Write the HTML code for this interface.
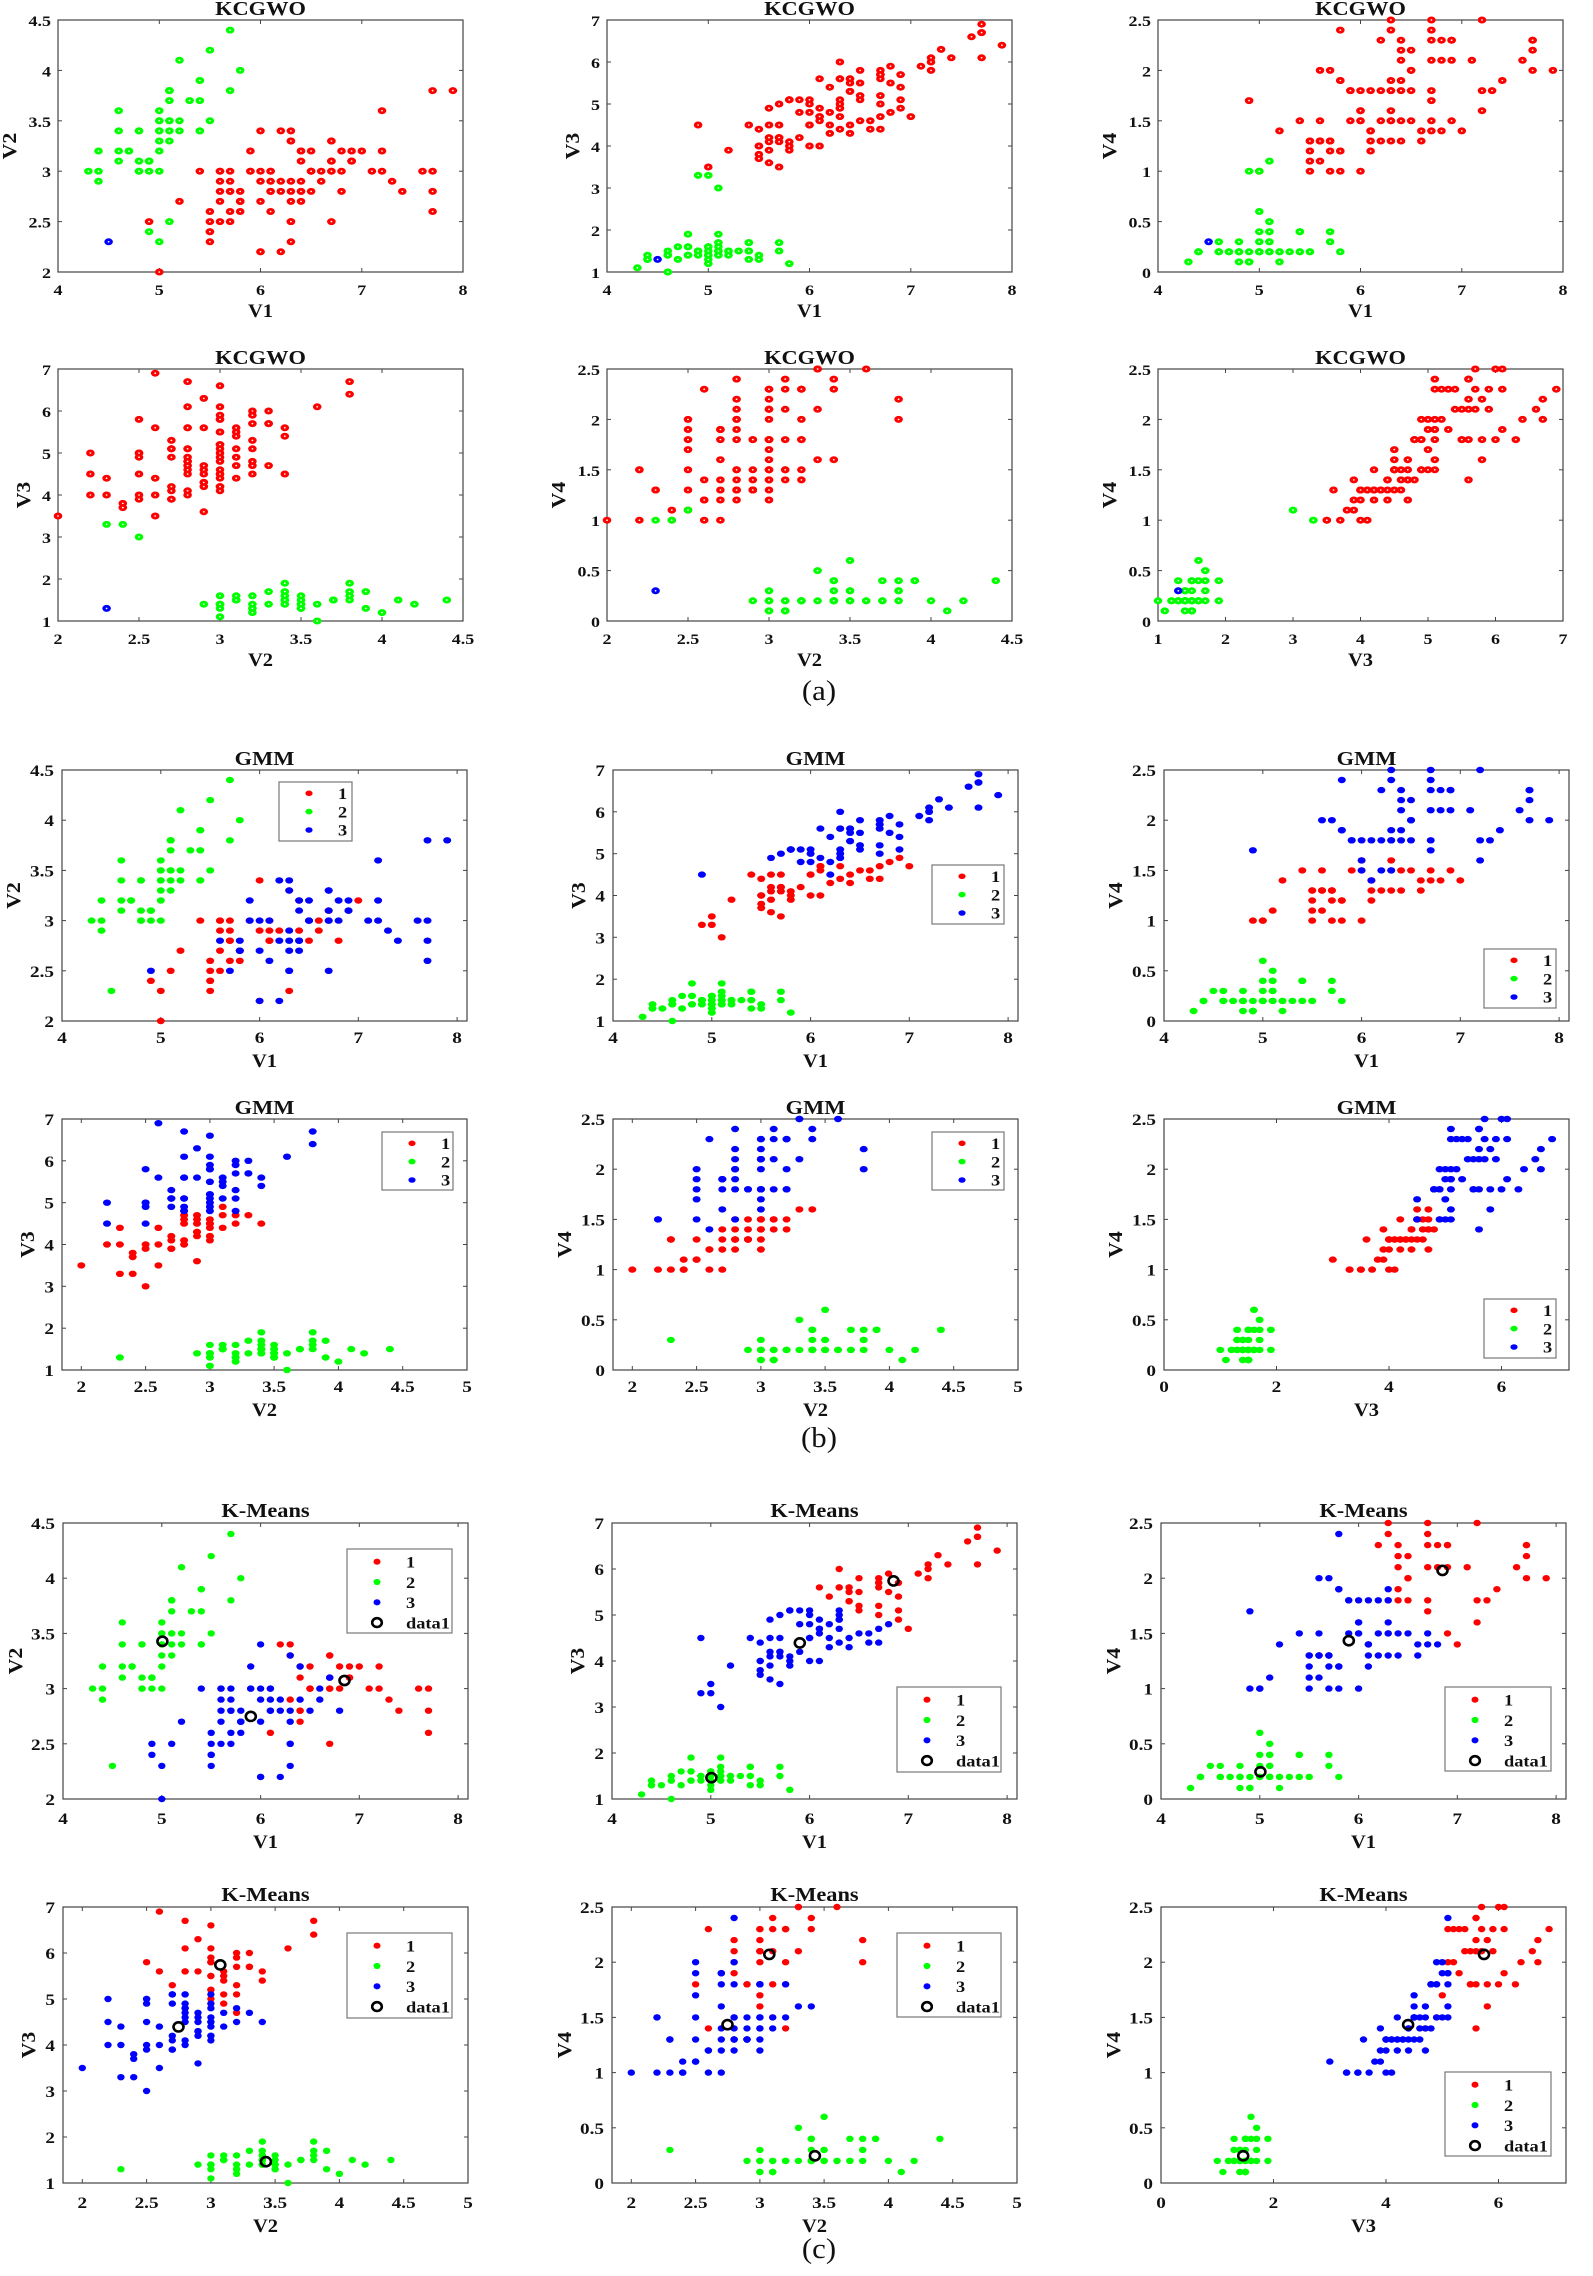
<!DOCTYPE html>
<html>
<head>
<meta charset="utf-8">
<style>
html,body{margin:0;padding:0;background:#fff;}
svg{display:block;}
text{font-family:"Liberation Serif",serif;font-weight:bold;fill:#111;}
.a{font-size:15px;}
.b{font-size:16px;}
.xm{text-anchor:middle;transform-box:fill-box;transform-origin:center;transform:scaleX(1.2);}
.ye{text-anchor:end;transform-box:fill-box;transform-origin:right center;transform:scaleX(1.2);}
.lb{font-size:19px;text-anchor:middle;transform-box:fill-box;transform-origin:center;transform:scaleX(1.08);}
.tt{font-size:20px;text-anchor:middle;transform-box:fill-box;transform-origin:center;transform:scaleX(1.12);}
.yl{font-size:19px;text-anchor:middle;}
.lg{font-size:16px;transform-box:fill-box;transform-origin:left center;transform:scaleX(1.15);}
.cap{font-size:28px;font-weight:normal;text-anchor:middle;transform-box:fill-box;transform-origin:center;transform:scaleX(1.1);}
</style>
</head>
<body>
<svg id="s" width="1593" height="2276" viewBox="0 0 1593 2276">
<rect x="0" y="0" width="1593" height="2276" fill="#fff"/>
<g id="plot"></g>

<!-- ================= KCGWO ================= -->
<g transform="translate(58,20)" class="a">
<text class="tt" x="202.5" y="-5">KCGWO</text>
<text class="xm" x="0" y="275">4</text><text class="xm" x="101.3" y="275">5</text><text class="xm" x="202.5" y="275">6</text><text class="xm" x="303.8" y="275">7</text><text class="xm" x="405" y="275">8</text>
<text class="ye" x="-7" y="258">2</text><text class="ye" x="-7" y="207.6">2.5</text><text class="ye" x="-7" y="157.2">3</text><text class="ye" x="-7" y="106.8">3.5</text><text class="ye" x="-7" y="56.4">4</text><text class="ye" x="-7" y="6">4.5</text>
<text class="lb" x="202.5" y="297">V1</text>
<text class="yl" transform="translate(-42,126) rotate(-90) scale(1.15,1.05)">V2</text>
</g>
<g transform="translate(607,20)" class="a">
<text class="tt" x="202.5" y="-5">KCGWO</text>
<text class="xm" x="0" y="275">4</text><text class="xm" x="101.3" y="275">5</text><text class="xm" x="202.5" y="275">6</text><text class="xm" x="303.8" y="275">7</text><text class="xm" x="405" y="275">8</text>
<text class="ye" x="-7" y="258">1</text><text class="ye" x="-7" y="216">2</text><text class="ye" x="-7" y="174">3</text><text class="ye" x="-7" y="132">4</text><text class="ye" x="-7" y="90">5</text><text class="ye" x="-7" y="48">6</text><text class="ye" x="-7" y="6">7</text>
<text class="lb" x="202.5" y="297">V1</text>
<text class="yl" transform="translate(-28,126) rotate(-90) scale(1.15,1.05)">V3</text>
</g>
<g transform="translate(1158,20)" class="a">
<text class="tt" x="202.5" y="-5">KCGWO</text>
<text class="xm" x="0" y="275">4</text><text class="xm" x="101.3" y="275">5</text><text class="xm" x="202.5" y="275">6</text><text class="xm" x="303.8" y="275">7</text><text class="xm" x="405" y="275">8</text>
<text class="ye" x="-7" y="258">0</text><text class="ye" x="-7" y="207.6">0.5</text><text class="ye" x="-7" y="157.2">1</text><text class="ye" x="-7" y="106.8">1.5</text><text class="ye" x="-7" y="56.4">2</text><text class="ye" x="-7" y="6">2.5</text>
<text class="lb" x="202.5" y="297">V1</text>
<text class="yl" transform="translate(-42,126) rotate(-90) scale(1.15,1.05)">V4</text>
</g>
<g transform="translate(58,369)" class="a">
<text class="tt" x="202.5" y="-5">KCGWO</text>
<text class="xm" x="0" y="275">2</text><text class="xm" x="81" y="275">2.5</text><text class="xm" x="162" y="275">3</text><text class="xm" x="243" y="275">3.5</text><text class="xm" x="324" y="275">4</text><text class="xm" x="405" y="275">4.5</text>
<text class="ye" x="-7" y="258">1</text><text class="ye" x="-7" y="216">2</text><text class="ye" x="-7" y="174">3</text><text class="ye" x="-7" y="132">4</text><text class="ye" x="-7" y="90">5</text><text class="ye" x="-7" y="48">6</text><text class="ye" x="-7" y="6">7</text>
<text class="lb" x="202.5" y="297">V2</text>
<text class="yl" transform="translate(-28,126) rotate(-90) scale(1.15,1.05)">V3</text>
</g>
<g transform="translate(607,369)" class="a">
<text class="tt" x="202.5" y="-5">KCGWO</text>
<text class="xm" x="0" y="275">2</text><text class="xm" x="81" y="275">2.5</text><text class="xm" x="162" y="275">3</text><text class="xm" x="243" y="275">3.5</text><text class="xm" x="324" y="275">4</text><text class="xm" x="405" y="275">4.5</text>
<text class="ye" x="-7" y="258">0</text><text class="ye" x="-7" y="207.6">0.5</text><text class="ye" x="-7" y="157.2">1</text><text class="ye" x="-7" y="106.8">1.5</text><text class="ye" x="-7" y="56.4">2</text><text class="ye" x="-7" y="6">2.5</text>
<text class="lb" x="202.5" y="297">V2</text>
<text class="yl" transform="translate(-42,126) rotate(-90) scale(1.15,1.05)">V4</text>
</g>
<g transform="translate(1158,369)" class="a">
<text class="tt" x="202.5" y="-5">KCGWO</text>
<text class="xm" x="0" y="275">1</text><text class="xm" x="67.5" y="275">2</text><text class="xm" x="135" y="275">3</text><text class="xm" x="202.5" y="275">4</text><text class="xm" x="270" y="275">5</text><text class="xm" x="337.5" y="275">6</text><text class="xm" x="405" y="275">7</text>
<text class="ye" x="-7" y="258">0</text><text class="ye" x="-7" y="207.6">0.5</text><text class="ye" x="-7" y="157.2">1</text><text class="ye" x="-7" y="106.8">1.5</text><text class="ye" x="-7" y="56.4">2</text><text class="ye" x="-7" y="6">2.5</text>
<text class="lb" x="202.5" y="297">V3</text>
<text class="yl" transform="translate(-42,126) rotate(-90) scale(1.15,1.05)">V4</text>
</g>

<!-- ================= GMM ================= -->
<g transform="translate(62,770)" class="b">
<text class="tt" x="202.5" y="-5">GMM</text>
<text class="xm" x="0" y="273">4</text><text class="xm" x="98.8" y="273">5</text><text class="xm" x="197.6" y="273">6</text><text class="xm" x="296.3" y="273">7</text><text class="xm" x="395.1" y="273">8</text>
<text class="ye" x="-8" y="257">2</text><text class="ye" x="-8" y="206.8">2.5</text><text class="ye" x="-8" y="156.6">3</text><text class="ye" x="-8" y="106.4">3.5</text><text class="ye" x="-8" y="56.2">4</text><text class="ye" x="-8" y="6">4.5</text>
<text class="lb" x="202.5" y="297">V1</text>
<text class="yl" transform="translate(-42,125.5) rotate(-90) scale(1.15,1.05)">V2</text>
</g>
<g transform="translate(613,770)" class="b">
<text class="tt" x="202.5" y="-5">GMM</text>
<text class="xm" x="0" y="273">4</text><text class="xm" x="98.8" y="273">5</text><text class="xm" x="197.6" y="273">6</text><text class="xm" x="296.3" y="273">7</text><text class="xm" x="395.1" y="273">8</text>
<text class="ye" x="-8" y="257">1</text><text class="ye" x="-8" y="215.2">2</text><text class="ye" x="-8" y="173.3">3</text><text class="ye" x="-8" y="131.5">4</text><text class="ye" x="-8" y="89.7">5</text><text class="ye" x="-8" y="47.8">6</text><text class="ye" x="-8" y="6">7</text>
<text class="lb" x="202.5" y="297">V1</text>
<text class="yl" transform="translate(-28,125.5) rotate(-90) scale(1.15,1.05)">V3</text>
</g>
<g transform="translate(1164,770)" class="b">
<text class="tt" x="202.5" y="-5">GMM</text>
<text class="xm" x="0" y="273">4</text><text class="xm" x="98.8" y="273">5</text><text class="xm" x="197.6" y="273">6</text><text class="xm" x="296.3" y="273">7</text><text class="xm" x="395.1" y="273">8</text>
<text class="ye" x="-8" y="257">0</text><text class="ye" x="-8" y="206.8">0.5</text><text class="ye" x="-8" y="156.6">1</text><text class="ye" x="-8" y="106.4">1.5</text><text class="ye" x="-8" y="56.2">2</text><text class="ye" x="-8" y="6">2.5</text>
<text class="lb" x="202.5" y="297">V1</text>
<text class="yl" transform="translate(-42,125.5) rotate(-90) scale(1.15,1.05)">V4</text>
</g>
<g transform="translate(62,1119)" class="b">
<text class="tt" x="202.5" y="-5">GMM</text>
<text class="xm" x="19.3" y="273">2</text><text class="xm" x="83.6" y="273">2.5</text><text class="xm" x="147.9" y="273">3</text><text class="xm" x="212.1" y="273">3.5</text><text class="xm" x="276.4" y="273">4</text><text class="xm" x="340.7" y="273">4.5</text><text class="xm" x="405" y="273">5</text>
<text class="ye" x="-8" y="257">1</text><text class="ye" x="-8" y="215.2">2</text><text class="ye" x="-8" y="173.3">3</text><text class="ye" x="-8" y="131.5">4</text><text class="ye" x="-8" y="89.7">5</text><text class="ye" x="-8" y="47.8">6</text><text class="ye" x="-8" y="6">7</text>
<text class="lb" x="202.5" y="297">V2</text>
<text class="yl" transform="translate(-28,125.5) rotate(-90) scale(1.15,1.05)">V3</text>
</g>
<g transform="translate(613,1119)" class="b">
<text class="tt" x="202.5" y="-5">GMM</text>
<text class="xm" x="19.3" y="273">2</text><text class="xm" x="83.6" y="273">2.5</text><text class="xm" x="147.9" y="273">3</text><text class="xm" x="212.1" y="273">3.5</text><text class="xm" x="276.4" y="273">4</text><text class="xm" x="340.7" y="273">4.5</text><text class="xm" x="405" y="273">5</text>
<text class="ye" x="-8" y="257">0</text><text class="ye" x="-8" y="206.8">0.5</text><text class="ye" x="-8" y="156.6">1</text><text class="ye" x="-8" y="106.4">1.5</text><text class="ye" x="-8" y="56.2">2</text><text class="ye" x="-8" y="6">2.5</text>
<text class="lb" x="202.5" y="297">V2</text>
<text class="yl" transform="translate(-42,125.5) rotate(-90) scale(1.15,1.05)">V4</text>
</g>
<g transform="translate(1164,1119)" class="b">
<text class="tt" x="202.5" y="-5">GMM</text>
<text class="xm" x="0" y="273">0</text><text class="xm" x="112.5" y="273">2</text><text class="xm" x="225" y="273">4</text><text class="xm" x="337.5" y="273">6</text>
<text class="ye" x="-8" y="257">0</text><text class="ye" x="-8" y="206.8">0.5</text><text class="ye" x="-8" y="156.6">1</text><text class="ye" x="-8" y="106.4">1.5</text><text class="ye" x="-8" y="56.2">2</text><text class="ye" x="-8" y="6">2.5</text>
<text class="lb" x="202.5" y="297">V3</text>
<text class="yl" transform="translate(-42,125.5) rotate(-90) scale(1.15,1.05)">V4</text>
</g>

<!-- ================= K-Means ================= -->
<g transform="translate(63,1523)" class="b">
<text class="tt" x="202.5" y="-6">K-Means</text>
<text class="xm" x="0" y="301">4</text><text class="xm" x="98.8" y="301">5</text><text class="xm" x="197.6" y="301">6</text><text class="xm" x="296.3" y="301">7</text><text class="xm" x="395.1" y="301">8</text>
<text class="ye" x="-8" y="282">2</text><text class="ye" x="-8" y="226.8">2.5</text><text class="ye" x="-8" y="171.6">3</text><text class="ye" x="-8" y="116.4">3.5</text><text class="ye" x="-8" y="61.2">4</text><text class="ye" x="-8" y="6">4.5</text>
<text class="lb" x="202.5" y="325">V1</text>
<text class="yl" transform="translate(-41,138) rotate(-90) scale(1.15,1.05)">V2</text>
</g>
<g transform="translate(612,1523)" class="b">
<text class="tt" x="202.5" y="-6">K-Means</text>
<text class="xm" x="0" y="301">4</text><text class="xm" x="98.8" y="301">5</text><text class="xm" x="197.6" y="301">6</text><text class="xm" x="296.3" y="301">7</text><text class="xm" x="395.1" y="301">8</text>
<text class="ye" x="-8" y="282">1</text><text class="ye" x="-8" y="236">2</text><text class="ye" x="-8" y="190">3</text><text class="ye" x="-8" y="144">4</text><text class="ye" x="-8" y="98">5</text><text class="ye" x="-8" y="52">6</text><text class="ye" x="-8" y="6">7</text>
<text class="lb" x="202.5" y="325">V1</text>
<text class="yl" transform="translate(-28,138) rotate(-90) scale(1.15,1.05)">V3</text>
</g>
<g transform="translate(1161,1523)" class="b">
<text class="tt" x="202.5" y="-6">K-Means</text>
<text class="xm" x="0" y="301">4</text><text class="xm" x="98.8" y="301">5</text><text class="xm" x="197.6" y="301">6</text><text class="xm" x="296.3" y="301">7</text><text class="xm" x="395.1" y="301">8</text>
<text class="ye" x="-8" y="282">0</text><text class="ye" x="-8" y="226.8">0.5</text><text class="ye" x="-8" y="171.6">1</text><text class="ye" x="-8" y="116.4">1.5</text><text class="ye" x="-8" y="61.2">2</text><text class="ye" x="-8" y="6">2.5</text>
<text class="lb" x="202.5" y="325">V1</text>
<text class="yl" transform="translate(-41,138) rotate(-90) scale(1.15,1.05)">V4</text>
</g>
<g transform="translate(63,1907)" class="b">
<text class="tt" x="202.5" y="-6">K-Means</text>
<text class="xm" x="19.3" y="301">2</text><text class="xm" x="83.6" y="301">2.5</text><text class="xm" x="147.9" y="301">3</text><text class="xm" x="212.1" y="301">3.5</text><text class="xm" x="276.4" y="301">4</text><text class="xm" x="340.7" y="301">4.5</text><text class="xm" x="405" y="301">5</text>
<text class="ye" x="-8" y="282">1</text><text class="ye" x="-8" y="236">2</text><text class="ye" x="-8" y="190">3</text><text class="ye" x="-8" y="144">4</text><text class="ye" x="-8" y="98">5</text><text class="ye" x="-8" y="52">6</text><text class="ye" x="-8" y="6">7</text>
<text class="lb" x="202.5" y="325">V2</text>
<text class="yl" transform="translate(-28,138) rotate(-90) scale(1.15,1.05)">V3</text>
</g>
<g transform="translate(612,1907)" class="b">
<text class="tt" x="202.5" y="-6">K-Means</text>
<text class="xm" x="19.3" y="301">2</text><text class="xm" x="83.6" y="301">2.5</text><text class="xm" x="147.9" y="301">3</text><text class="xm" x="212.1" y="301">3.5</text><text class="xm" x="276.4" y="301">4</text><text class="xm" x="340.7" y="301">4.5</text><text class="xm" x="405" y="301">5</text>
<text class="ye" x="-8" y="282">0</text><text class="ye" x="-8" y="226.8">0.5</text><text class="ye" x="-8" y="171.6">1</text><text class="ye" x="-8" y="116.4">1.5</text><text class="ye" x="-8" y="61.2">2</text><text class="ye" x="-8" y="6">2.5</text>
<text class="lb" x="202.5" y="325">V2</text>
<text class="yl" transform="translate(-41,138) rotate(-90) scale(1.15,1.05)">V4</text>
</g>
<g transform="translate(1161,1907)" class="b">
<text class="tt" x="202.5" y="-6">K-Means</text>
<text class="xm" x="0" y="301">0</text><text class="xm" x="112.5" y="301">2</text><text class="xm" x="225" y="301">4</text><text class="xm" x="337.5" y="301">6</text>
<text class="ye" x="-8" y="282">0</text><text class="ye" x="-8" y="226.8">0.5</text><text class="ye" x="-8" y="171.6">1</text><text class="ye" x="-8" y="116.4">1.5</text><text class="ye" x="-8" y="61.2">2</text><text class="ye" x="-8" y="6">2.5</text>
<text class="lb" x="202.5" y="325">V3</text>
<text class="yl" transform="translate(-41,138) rotate(-90) scale(1.15,1.05)">V4</text>
</g>

<!-- ================= Legends GMM ================= -->
<g transform="translate(279,782)">
<rect x="0" y="0" width="73" height="59" fill="#fff" stroke="#777" stroke-width="1.2"/>
<ellipse cx="30" cy="11.3" rx="3.6" ry="2.8" fill="#ff0000"/><ellipse cx="30" cy="29.6" rx="3.6" ry="2.8" fill="#00ff00"/><ellipse cx="30" cy="48" rx="3.6" ry="2.8" fill="#0000ff"/>
<text class="lg" x="59" y="17">1</text><text class="lg" x="59" y="35.3">2</text><text class="lg" x="59" y="53.7">3</text>
</g>
<g transform="translate(932,865)">
<rect x="0" y="0" width="72" height="59" fill="#fff" stroke="#777" stroke-width="1.2"/>
<ellipse cx="30" cy="11.3" rx="3.6" ry="2.8" fill="#ff0000"/><ellipse cx="30" cy="29.6" rx="3.6" ry="2.8" fill="#00ff00"/><ellipse cx="30" cy="48" rx="3.6" ry="2.8" fill="#0000ff"/>
<text class="lg" x="59" y="17">1</text><text class="lg" x="59" y="35.3">2</text><text class="lg" x="59" y="53.7">3</text>
</g>
<g transform="translate(1484,949)">
<rect x="0" y="0" width="72" height="59" fill="#fff" stroke="#777" stroke-width="1.2"/>
<ellipse cx="30" cy="11.3" rx="3.6" ry="2.8" fill="#ff0000"/><ellipse cx="30" cy="29.6" rx="3.6" ry="2.8" fill="#00ff00"/><ellipse cx="30" cy="48" rx="3.6" ry="2.8" fill="#0000ff"/>
<text class="lg" x="59" y="17">1</text><text class="lg" x="59" y="35.3">2</text><text class="lg" x="59" y="53.7">3</text>
</g>
<g transform="translate(382,1132)">
<rect x="0" y="0" width="71" height="58" fill="#fff" stroke="#777" stroke-width="1.2"/>
<ellipse cx="30" cy="11.3" rx="3.6" ry="2.8" fill="#ff0000"/><ellipse cx="30" cy="29.6" rx="3.6" ry="2.8" fill="#00ff00"/><ellipse cx="30" cy="48" rx="3.6" ry="2.8" fill="#0000ff"/>
<text class="lg" x="59" y="17">1</text><text class="lg" x="59" y="35.3">2</text><text class="lg" x="59" y="53.7">3</text>
</g>
<g transform="translate(932,1132)">
<rect x="0" y="0" width="72" height="58" fill="#fff" stroke="#777" stroke-width="1.2"/>
<ellipse cx="30" cy="11.3" rx="3.6" ry="2.8" fill="#ff0000"/><ellipse cx="30" cy="29.6" rx="3.6" ry="2.8" fill="#00ff00"/><ellipse cx="30" cy="48" rx="3.6" ry="2.8" fill="#0000ff"/>
<text class="lg" x="59" y="17">1</text><text class="lg" x="59" y="35.3">2</text><text class="lg" x="59" y="53.7">3</text>
</g>
<g transform="translate(1484,1299)">
<rect x="0" y="0" width="72" height="59" fill="#fff" stroke="#777" stroke-width="1.2"/>
<ellipse cx="30" cy="11.3" rx="3.6" ry="2.8" fill="#ff0000"/><ellipse cx="30" cy="29.6" rx="3.6" ry="2.8" fill="#00ff00"/><ellipse cx="30" cy="48" rx="3.6" ry="2.8" fill="#0000ff"/>
<text class="lg" x="59" y="17">1</text><text class="lg" x="59" y="35.3">2</text><text class="lg" x="59" y="53.7">3</text>
</g>

<!-- ================= Legends K-Means ================= -->
<g transform="translate(347,1549)">
<rect x="0" y="0" width="105" height="84" fill="#fff" stroke="#777" stroke-width="1.2"/>
<ellipse cx="30" cy="12.7" rx="3.5" ry="3.1" fill="#ff0000"/><ellipse cx="30" cy="33" rx="3.5" ry="3.1" fill="#00ff00"/><ellipse cx="30" cy="53.3" rx="3.5" ry="3.1" fill="#0000ff"/><ellipse cx="30" cy="73.6" rx="4.8" ry="4.4" fill="none" stroke="#000" stroke-width="2.6"/>
<text class="lg" x="59" y="18.5">1</text><text class="lg" x="59" y="38.8">2</text><text class="lg" x="59" y="59.1">3</text><text class="lg" x="59" y="79.4">data1</text>
</g>
<g transform="translate(897,1687)">
<rect x="0" y="0" width="104" height="85" fill="#fff" stroke="#777" stroke-width="1.2"/>
<ellipse cx="30" cy="12.7" rx="3.5" ry="3.1" fill="#ff0000"/><ellipse cx="30" cy="33" rx="3.5" ry="3.1" fill="#00ff00"/><ellipse cx="30" cy="53.3" rx="3.5" ry="3.1" fill="#0000ff"/><ellipse cx="30" cy="73.6" rx="4.8" ry="4.4" fill="none" stroke="#000" stroke-width="2.6"/>
<text class="lg" x="59" y="18.5">1</text><text class="lg" x="59" y="38.8">2</text><text class="lg" x="59" y="59.1">3</text><text class="lg" x="59" y="79.4">data1</text>
</g>
<g transform="translate(1445,1687)">
<rect x="0" y="0" width="106" height="84" fill="#fff" stroke="#777" stroke-width="1.2"/>
<ellipse cx="30" cy="12.7" rx="3.5" ry="3.1" fill="#ff0000"/><ellipse cx="30" cy="33" rx="3.5" ry="3.1" fill="#00ff00"/><ellipse cx="30" cy="53.3" rx="3.5" ry="3.1" fill="#0000ff"/><ellipse cx="30" cy="73.6" rx="4.8" ry="4.4" fill="none" stroke="#000" stroke-width="2.6"/>
<text class="lg" x="59" y="18.5">1</text><text class="lg" x="59" y="38.8">2</text><text class="lg" x="59" y="59.1">3</text><text class="lg" x="59" y="79.4">data1</text>
</g>
<g transform="translate(347,1933)">
<rect x="0" y="0" width="105" height="85" fill="#fff" stroke="#777" stroke-width="1.2"/>
<ellipse cx="30" cy="12.7" rx="3.5" ry="3.1" fill="#ff0000"/><ellipse cx="30" cy="33" rx="3.5" ry="3.1" fill="#00ff00"/><ellipse cx="30" cy="53.3" rx="3.5" ry="3.1" fill="#0000ff"/><ellipse cx="30" cy="73.6" rx="4.8" ry="4.4" fill="none" stroke="#000" stroke-width="2.6"/>
<text class="lg" x="59" y="18.5">1</text><text class="lg" x="59" y="38.8">2</text><text class="lg" x="59" y="59.1">3</text><text class="lg" x="59" y="79.4">data1</text>
</g>
<g transform="translate(897,1933)">
<rect x="0" y="0" width="104" height="84" fill="#fff" stroke="#777" stroke-width="1.2"/>
<ellipse cx="30" cy="12.7" rx="3.5" ry="3.1" fill="#ff0000"/><ellipse cx="30" cy="33" rx="3.5" ry="3.1" fill="#00ff00"/><ellipse cx="30" cy="53.3" rx="3.5" ry="3.1" fill="#0000ff"/><ellipse cx="30" cy="73.6" rx="4.8" ry="4.4" fill="none" stroke="#000" stroke-width="2.6"/>
<text class="lg" x="59" y="18.5">1</text><text class="lg" x="59" y="38.8">2</text><text class="lg" x="59" y="59.1">3</text><text class="lg" x="59" y="79.4">data1</text>
</g>
<g transform="translate(1445,2072)">
<rect x="0" y="0" width="106" height="84" fill="#fff" stroke="#777" stroke-width="1.2"/>
<ellipse cx="30" cy="12.7" rx="3.5" ry="3.1" fill="#ff0000"/><ellipse cx="30" cy="33" rx="3.5" ry="3.1" fill="#00ff00"/><ellipse cx="30" cy="53.3" rx="3.5" ry="3.1" fill="#0000ff"/><ellipse cx="30" cy="73.6" rx="4.8" ry="4.4" fill="none" stroke="#000" stroke-width="2.6"/>
<text class="lg" x="59" y="18.5">1</text><text class="lg" x="59" y="38.8">2</text><text class="lg" x="59" y="59.1">3</text><text class="lg" x="59" y="79.4">data1</text>
</g>

<!-- ================= Captions ================= -->
<text class="cap" x="819" y="700">(a)</text>
<text class="cap" x="819" y="1447">(b)</text>
<text class="cap" x="819" y="2258">(c)</text>
</svg>

<script>
(function(){
var S="5.1,3.5,1.4,0.2 4.9,3,1.4,0.2 4.7,3.2,1.3,0.2 4.6,3.1,1.5,0.2 5,3.6,1.4,0.2 5.4,3.9,1.7,0.4 4.6,3.4,1.4,0.3 5,3.4,1.5,0.2 4.4,2.9,1.4,0.2 4.9,3.1,1.5,0.1 "+
"5.4,3.7,1.5,0.2 4.8,3.4,1.6,0.2 4.8,3,1.4,0.1 4.3,3,1.1,0.1 5.8,4,1.2,0.2 5.7,4.4,1.5,0.4 5.4,3.9,1.3,0.4 5.1,3.5,1.4,0.3 5.7,3.8,1.7,0.3 5.1,3.8,1.5,0.3 "+
"5.4,3.4,1.7,0.2 5.1,3.7,1.5,0.4 4.6,3.6,1,0.2 5.1,3.3,1.7,0.5 4.8,3.4,1.9,0.2 5,3,1.6,0.2 5,3.4,1.6,0.4 5.2,3.5,1.5,0.2 5.2,3.4,1.4,0.2 4.7,3.2,1.6,0.2 "+
"4.8,3.1,1.6,0.2 5.4,3.4,1.5,0.4 5.2,4.1,1.5,0.1 5.5,4.2,1.4,0.2 4.9,3.1,1.5,0.1 5,3.2,1.2,0.2 5.5,3.5,1.3,0.2 4.9,3.1,1.5,0.1 4.4,3,1.3,0.2 5.1,3.4,1.5,0.2 "+
"5,3.5,1.3,0.3 4.5,2.3,1.3,0.3 4.4,3.2,1.3,0.2 5,3.5,1.6,0.6 5.1,3.8,1.9,0.4 4.8,3,1.4,0.3 5.1,3.8,1.6,0.2 4.6,3.2,1.4,0.2 5.3,3.7,1.5,0.2 5,3.3,1.4,0.2 "+
"7,3.2,4.7,1.4 6.4,3.2,4.5,1.5 6.9,3.1,4.9,1.5 5.5,2.3,4,1.3 6.5,2.8,4.6,1.5 5.7,2.8,4.5,1.3 6.3,3.3,4.7,1.6 4.9,2.4,3.3,1 6.6,2.9,4.6,1.3 5.2,2.7,3.9,1.4 "+
"5,2,3.5,1 5.9,3,4.2,1.5 6,2.2,4,1 6.1,2.9,4.7,1.4 5.6,2.9,3.6,1.3 6.7,3.1,4.4,1.4 5.6,3,4.5,1.5 5.8,2.7,4.1,1 6.2,2.2,4.5,1.5 5.6,2.5,3.9,1.1 "+
"5.9,3.2,4.8,1.8 6.1,2.8,4,1.3 6.3,2.5,4.9,1.5 6.1,2.8,4.7,1.2 6.4,2.9,4.3,1.3 6.6,3,4.4,1.4 6.8,2.8,4.8,1.4 6.7,3,5,1.7 6,2.9,4.5,1.5 5.7,2.6,3.5,1 "+
"5.5,2.4,3.8,1.1 5.5,2.4,3.7,1 5.8,2.7,3.9,1.2 6,2.7,5.1,1.6 5.4,3,4.5,1.5 6,3.4,4.5,1.6 6.7,3.1,4.7,1.5 6.3,2.3,4.4,1.3 5.6,3,4.1,1.3 5.5,2.5,4,1.3 "+
"5.5,2.6,4.4,1.2 6.1,3,4.6,1.4 5.8,2.6,4,1.2 5,2.3,3.3,1 5.6,2.7,4.2,1.3 5.7,3,4.2,1.2 5.7,2.9,4.2,1.3 6.2,2.9,4.3,1.3 5.1,2.5,3,1.1 5.7,2.8,4.1,1.3 "+
"6.3,3.3,6,2.5 5.8,2.7,5.1,1.9 7.1,3,5.9,2.1 6.3,2.9,5.6,1.8 6.5,3,5.8,2.2 7.6,3,6.6,2.1 4.9,2.5,4.5,1.7 7.3,2.9,6.3,1.8 6.7,2.5,5.8,1.8 7.2,3.6,6.1,2.5 "+
"6.5,3.2,5.1,2 6.4,2.7,5.3,1.9 6.8,3,5.5,2.1 5.7,2.5,5,2 5.8,2.8,5.1,2.4 6.4,3.2,5.3,2.3 6.5,3,5.5,1.8 7.7,3.8,6.7,2.2 7.7,2.6,6.9,2.3 6,2.2,5,1.5 "+
"6.9,3.2,5.7,2.3 5.6,2.8,4.9,2 7.7,2.8,6.7,2 6.3,2.7,4.9,1.8 6.7,3.3,5.7,2.1 7.2,3.2,6,1.8 6.2,2.8,4.8,1.8 6.1,3,4.9,1.8 6.4,2.8,5.6,2.1 7.2,3,5.8,1.6 "+
"7.4,2.8,6.1,1.9 7.9,3.8,6.4,2 6.4,2.8,5.6,2.2 6.3,2.8,5.1,1.5 6.1,2.6,5.6,1.4 7.7,3,6.1,2.3 6.3,3.4,5.6,2.4 6.4,3.1,5.5,1.8 6,3,4.8,1.8 6.9,3.1,5.4,2.1 "+
"6.7,3.1,5.6,2.4 6.9,3.1,5.1,2.3 5.8,2.7,5.1,1.9 6.8,3.2,5.9,2.3 6.7,3.3,5.7,2.5 6.7,3,5.2,2.3 6.3,2.5,5,1.9 6.5,3,5.2,2 6.2,3.4,5.4,2.3 5.9,3,5.1,1.8";
var D=S.split(' ').map(function(r){return r.split(',').map(Number);});
function lab(m,i){var n=i+1;
 if(m==='kc'){if(n===42)return 3;if(n<=50)return 2;if(n===58||n===94||n===99)return 2;return 1;}
 if(m==='gmm'){if(n<=50)return 2;if(n<=100)return [69,71,73,78,84].indexOf(n)>=0?3:1;return 3;}
 if(n<=50)return 2;if(n<=100)return [51,53,78].indexOf(n)>=0?1:3;
 return [102,107,114,115,120,122,124,127,128,134,139,143,147,150].indexOf(n)>=0?3:1;}
var COL={1:'#ff0000',2:'#00ff00',3:'#0000ff'};
var AX=[[0,1],[0,2],[0,3],[1,2],[1,3],[2,3]];
var YL={1:[2,4.5,0.5,2],2:[1,7,1,1],3:[0,2.5,0.5,0]};
var XLA={0:[4,8,1,4],1:[2,4.5,0.5,2],2:[1,7,1,1]};
var XLB={0:[4,8.1,1,4],1:[1.85,5,0.5,2],2:[0,7.2,2,0]};
var sets=[
 {m:'kc',W:405,H:252,XL:XLA,pos:[[58,20],[607,20],[1158,20],[58,369],[607,369],[1158,369]]},
 {m:'gmm',W:405,H:251,XL:XLB,pos:[[62,770],[613,770],[1164,770],[62,1119],[613,1119],[1164,1119]]},
 {m:'km',W:405,H:276,XL:XLB,pos:[[63,1523],[612,1523],[1161,1523],[63,1907],[612,1907],[1161,1907]]}
];
var CEN=[[6.85,3.0737,5.7421,2.0711],[5.006,3.428,1.462,0.246],[5.9016,2.7484,4.3935,1.4339]];
var s='';
sets.forEach(function(st){
 st.pos.forEach(function(p,k){
  var L=p[0],T=p[1],W=st.W,H=st.H,xi=AX[k][0],yi=AX[k][1];
  var xl=st.XL[xi],yl=YL[yi];
  function X(v){return L+(v-xl[0])/(xl[1]-xl[0])*W;}
  function Y(v){return T+H-(v-yl[0])/(yl[1]-yl[0])*H;}
  s+='<rect x="'+L+'" y="'+T+'" width="'+W+'" height="'+H+'" fill="#fff" stroke="#444" stroke-width="1.2"/>';
  var t,px,py;
  for(t=xl[3];t<=xl[1]+1e-9;t+=xl[2]){px=X(t).toFixed(1);
   s+='<line x1="'+px+'" y1="'+(T+H)+'" x2="'+px+'" y2="'+(T+H-4)+'" stroke="#444" stroke-width="1"/>';
   s+='<line x1="'+px+'" y1="'+T+'" x2="'+px+'" y2="'+(T+4)+'" stroke="#444" stroke-width="1"/>';}
  for(t=yl[3];t<=yl[1]+1e-9;t+=yl[2]){py=Y(t).toFixed(1);
   s+='<line x1="'+L+'" y1="'+py+'" x2="'+(L+4)+'" y2="'+py+'" stroke="#444" stroke-width="1"/>';
   s+='<line x1="'+(L+W)+'" y1="'+py+'" x2="'+(L+W-4)+'" y2="'+py+'" stroke="#444" stroke-width="1"/>';}
  [1,2,3].forEach(function(c){
   for(var i=0;i<150;i++){ if(lab(st.m,i)!==c) continue;
    var cx=X(D[i][xi]).toFixed(1), cy=Y(D[i][yi]).toFixed(1);
    if(st.m==='kc'){
     s+='<ellipse cx="'+cx+'" cy="'+cy+'" rx="4.3" ry="3.5" fill="'+COL[c]+'"/><ellipse cx="'+cx+'" cy="'+cy+'" rx="0.9" ry="0.8" fill="#fff"/>';
    } else if(st.m==='gmm'){
     s+='<ellipse cx="'+cx+'" cy="'+cy+'" rx="4" ry="3.2" fill="'+COL[c]+'"/>';
    } else {
     s+='<ellipse cx="'+cx+'" cy="'+cy+'" rx="3.7" ry="3.2" fill="'+COL[c]+'"/>';
    }
   }
  });
  if(st.m==='km'){
   CEN.forEach(function(cc){
    s+='<ellipse cx="'+X(cc[xi]).toFixed(1)+'" cy="'+Y(cc[yi]).toFixed(1)+'" rx="5" ry="4.6" fill="none" stroke="#000" stroke-width="2.6"/>';
   });
  }
 });
});
document.getElementById('plot').innerHTML=s;
})();
</script>
</body>
</html>
